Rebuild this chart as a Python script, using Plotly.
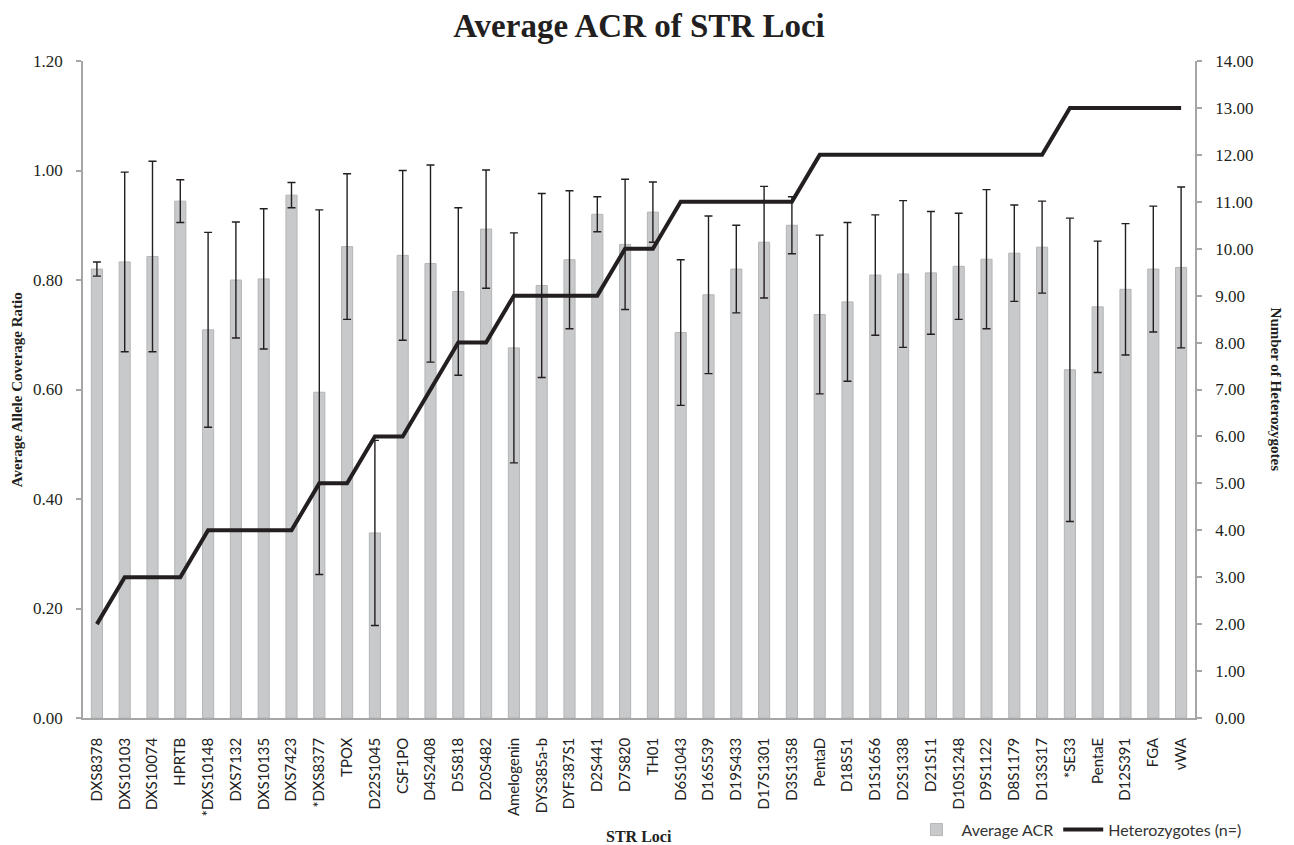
import plotly.graph_objects as go

# STR loci, ordered by number of heterozygotes
loci = ["DXS8378", "DXS10103", "DXS10074", "HPRTB", "*DXS10148", "DXS7132",
        "DXS10135", "DXS7423", "*DXS8377", "TPOX", "D22S1045", "CSF1PO",
        "D4S2408", "D5S818", "D20S482", "Amelogenin", "DYS385a-b", "DYF387S1",
        "D2S441", "D7S820", "TH01", "D6S1043", "D16S539", "D19S433",
        "D17S1301", "D3S1358", "PentaD", "D18S51", "D1S1656", "D2S1338",
        "D21S11", "D10S1248", "D9S1122", "D8S1179", "D13S317", "*SE33",
        "PentaE", "D12S391", "FGA", "vWA"]

# Average allele coverage ratio per locus
acr = [0.820, 0.833, 0.843, 0.944, 0.709, 0.800, 0.802, 0.955, 0.595, 0.861,
       0.338, 0.845, 0.830, 0.779, 0.893, 0.676, 0.790, 0.837, 0.920, 0.865,
       0.924, 0.704, 0.773, 0.820, 0.869, 0.900, 0.737, 0.760, 0.809, 0.811,
       0.813, 0.825, 0.838, 0.849, 0.860, 0.636, 0.751, 0.783, 0.820, 0.823]

# Standard deviation of the ratio
acr_sd = [0.013, 0.164, 0.174, 0.039, 0.178, 0.106, 0.128, 0.023, 0.333, 0.133,
          0.169, 0.155, 0.180, 0.153, 0.108, 0.210, 0.168, 0.126, 0.032, 0.119,
          0.055, 0.133, 0.144, 0.080, 0.102, 0.052, 0.145, 0.145, 0.110, 0.134,
          0.112, 0.097, 0.127, 0.088, 0.084, 0.277, 0.120, 0.120, 0.115, 0.147]

# Number of heterozygous samples per locus
heterozygotes = [2, 3, 3, 3, 4, 4, 4, 4, 5, 5, 6, 6, 7, 8, 8, 9, 9, 9, 9, 10,
                 10, 11, 11, 11, 11, 11, 12, 12, 12, 12, 12, 12, 12, 12, 12, 13,
                 13, 13, 13, 13]

INK = "#231f20"
AXIS = "#a6a6a6"
SERIF = "Liberation Serif"
SANS = "Lato"

fig = go.Figure()

fig.add_trace(go.Bar(
    x=loci, y=acr, name="Average ACR",
    marker=dict(color="#c8c9cb", line=dict(color="#b4b5b7", width=1)),
    error_y=dict(type="data", array=acr_sd, visible=True,
                 color=INK, thickness=1.4, width=4),
    yaxis="y",
))

fig.add_trace(go.Scatter(
    x=loci, y=heterozygotes, name="Heterozygotes (n=)",
    mode="lines", line=dict(color=INK, width=4),
    yaxis="y2",
))

fig.update_layout(
    width=1294, height=845,
    margin=dict(l=83, r=99, t=61, b=127, autoexpand=False),
    paper_bgcolor="white", plot_bgcolor="white",
    bargap=0.6,
    showlegend=True,
    legend=dict(orientation="h", x=0.745, y=-0.170, xanchor="left",
                yanchor="middle", font=dict(family=SANS, size=16, color="#333333"),
                itemwidth=40, bgcolor="rgba(0,0,0,0)"),
    title=dict(text="<b>Average ACR of STR Loci</b>", x=0.5, xref="paper",
               xanchor="center", y=1 - 25 / 845, yref="container", yanchor="middle",
               font=dict(family=SERIF, size=33, color=INK)),
    xaxis=dict(
        type="category", range=[-0.5, 39.5],
        tickangle=-90, ticks="", showline=True, linecolor=AXIS, linewidth=1.5,
        tickfont=dict(family=SANS, size=15, color="#222222"),
        ticklabelstandoff=12, showgrid=False, automargin=False,
    ),
    yaxis=dict(
        range=[0, 1.2], dtick=0.2, tickformat=".2f",
        showline=True, linecolor=AXIS, linewidth=1.5,
        ticks="outside", ticklen=5, tickcolor=AXIS, tickwidth=1.5,
        tickfont=dict(family=SERIF, size=17, color=INK),
        ticklabelstandoff=10, showgrid=False, zeroline=False, automargin=False,
    ),
    yaxis2=dict(
        range=[0, 14], dtick=1, tickformat=".2f", overlaying="y", side="right",
        showline=True, linecolor=AXIS, linewidth=1.5,
        ticks="outside", ticklen=5, tickcolor=AXIS, tickwidth=1.5,
        tickfont=dict(family=SERIF, size=17, color=INK),
        ticklabelstandoff=10, showgrid=False, zeroline=False, automargin=False,
    ),
    annotations=[
        dict(text="<b>Average Allele Coverage Ratio</b>", xref="paper", yref="paper",
             x=-0.0595, y=0.5, xanchor="center", yanchor="middle", textangle=-90,
             showarrow=False, font=dict(family=SERIF, size=15, color=INK)),
        dict(text="<b>Number of Heterozygotes</b>", xref="paper", yref="paper",
             x=1.0737, y=0.5, xanchor="center", yanchor="middle", textangle=90,
             showarrow=False, font=dict(family=SERIF, size=15, color=INK)),
        dict(text="<b>STR Loci</b>", xref="paper", yref="paper",
             x=0.5, y=-0.18, xanchor="center", yanchor="middle",
             showarrow=False, font=dict(family=SERIF, size=16, color=INK)),
    ],
)

fig.write_html("out.html")
